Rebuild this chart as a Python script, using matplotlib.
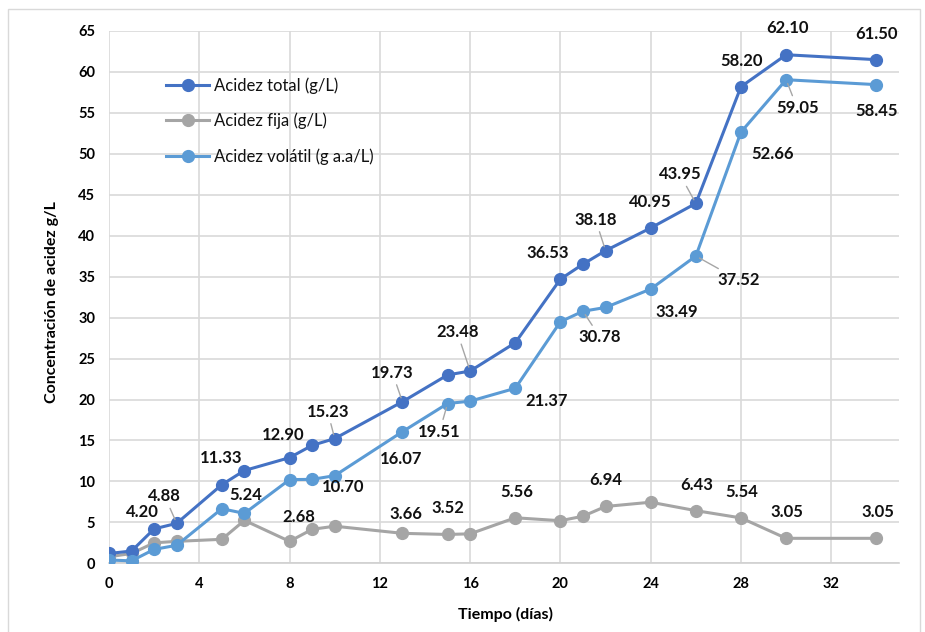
import matplotlib
matplotlib.use("Agg")
import matplotlib.pyplot as plt
from matplotlib.patches import Rectangle

plt.rcParams['font.family'] = ['Lato', 'DejaVu Sans']

# datos
dias = [0, 1, 2, 3, 5, 6, 8, 9, 10, 13, 15, 16, 18, 20, 21, 22, 24, 26, 28, 30, 34]
acidez_total = [1.2, 1.5, 4.20, 4.88, 9.6, 11.33, 12.90, 14.4, 15.23, 19.73, 23.0, 23.48,
                26.93, 34.7, 36.53, 38.18, 40.95, 43.95, 58.20, 62.10, 61.50]
acidez_fija = [0.8, 1.2, 2.5, 2.68, 2.93, 5.24, 2.68, 4.15, 4.53, 3.66, 3.52, 3.6,
               5.56, 5.2, 5.75, 6.94, 7.46, 6.43, 5.54, 3.05, 3.05]
acidez_volatil = [0.4, 0.3, 1.7, 2.2, 6.67, 6.09, 10.22, 10.25, 10.70, 16.07, 19.51, 19.8,
                  21.37, 29.5, 30.78, 31.24, 33.49, 37.52, 52.66, 59.05, 58.45]

# que puntos llevan etiqueta (indice en dias)
etq_total = [2, 3, 5, 6, 8, 9, 11, 14, 15, 16, 17, 18, 19, 20]
etq_volatil = [8, 9, 10, 12, 14, 16, 17, 18, 19, 20]
etq_fija = [5, 6, 9, 10, 12, 15, 17, 18, 19, 20]

# desplazamiento de cada etiqueta en pixeles (dx, dy hacia abajo) y si lleva linea guia
pos_total = [(-12, -17, 0), (-12, -27, 1), (-23, -13, 0), (-6, -23, 0), (-7, -27, 1),
             (-10, -29, 1), (-13, -39, 1), (-35, -11, 0), (-10, -31, 1), (0, -26, 0),
             (-16, -29, 1), (1, -26, 0), (1, -27, 0), (0, -26, 0)]
pos_volatil = [(8, 11, 0), (-1, 27, 0), (-8, 28, 1), (31, 13, 0), (17, 26, 1),
               (26, 23, 0), (43, 24, 1), (32, 22, 0), (11, 28, 1), (0, 26, 0)]
pos_fija = [(1, -25, 0), (9, -24, 0), (3, -19, 0), (0, -26, 0), (1, -26, 0),
            (0, -26, 0), (1, -26, 0), (1, -26, 0), (1, -26, 0), (1, -26, 0)]

c_total = '#4472C4'
c_fija = '#A5A5A5'
c_volatil = '#5B9BD5'

fig = plt.figure(figsize=(9.25, 6.32), dpi=100)
fig.patches.append(Rectangle((8 / 925, -0.05), 912 / 925, 1.05 - 9 / 632,
                             transform=fig.transFigure, fill=False,
                             edgecolor='#D9D9D9', lw=1.0))
ax = fig.add_axes([109 / 925, 1 - 563.3 / 632, 790 / 925, 532.3 / 632])

ax.plot(dias, acidez_total, '-o', color=c_total, lw=2.2, ms=8.5, label='Acidez total (g/L)', zorder=4)
ax.plot(dias, acidez_fija, '-o', color=c_fija, lw=2.2, ms=8.5, label='Acidez fija (g/L)', zorder=3)
ax.plot(dias, acidez_volatil, '-o', color=c_volatil, lw=2.2, ms=8.5, label='Acidez volátil (g a.a/L)', zorder=5)


def etiquetar(serie, indices, posiciones):
    for i, (dx, dy, guia) in zip(indices, posiciones):
        props = None
        if guia:
            props = dict(arrowstyle='-', color='#A6A6A6', lw=1.0, shrinkA=1, shrinkB=3)
        ax.annotate(f"{serie[i]:.2f}", (dias[i], serie[i]),
                    xytext=(dx * 0.72, -dy * 0.72), textcoords='offset points',
                    ha='center', va='center', fontsize=12, fontweight='bold',
                    color='#111111', arrowprops=props, annotation_clip=False, zorder=6)


etiquetar(acidez_total, etq_total, pos_total)
etiquetar(acidez_volatil, etq_volatil, pos_volatil)
etiquetar(acidez_fija, etq_fija, pos_fija)

ax.set_xlim(0, 35)
ax.set_ylim(0, 65)
ax.set_xticks(range(0, 33, 4))
ax.set_yticks(range(0, 66, 5))
ax.grid(True, color='#D9D9D9', lw=1.2)
ax.set_axisbelow(True)
for s in ['top', 'right', 'left']:
    ax.spines[s].set_visible(False)
ax.spines['bottom'].set_color('#D0D0D0')
ax.spines['bottom'].set_linewidth(1.2)
ax.tick_params(length=0, labelsize=10.5, pad=10)
for t in ax.get_xticklabels() + ax.get_yticklabels():
    t.set_fontweight('bold')

# titulos de ejes
fig.text(506 / 925, 1 - 614 / 632, 'Tiempo (días)', fontsize=11.5, fontweight='bold',
         ha='center', va='center')
fig.text(52 / 925, 1 - 302 / 632, 'Concentración de acidez g/L', fontsize=11.5,
         fontweight='bold', ha='center', va='center', rotation=90)

ax.legend(loc='upper left', bbox_to_anchor=(166 / 925, 1 - 77 / 632),
          bbox_transform=fig.transFigure, frameon=False, fontsize=12,
          handlelength=2.6, handletextpad=0.3, labelspacing=1.15,
          borderpad=0, borderaxespad=0, labelcolor='#111111')

fig.savefig('out.png', dpi=100)
